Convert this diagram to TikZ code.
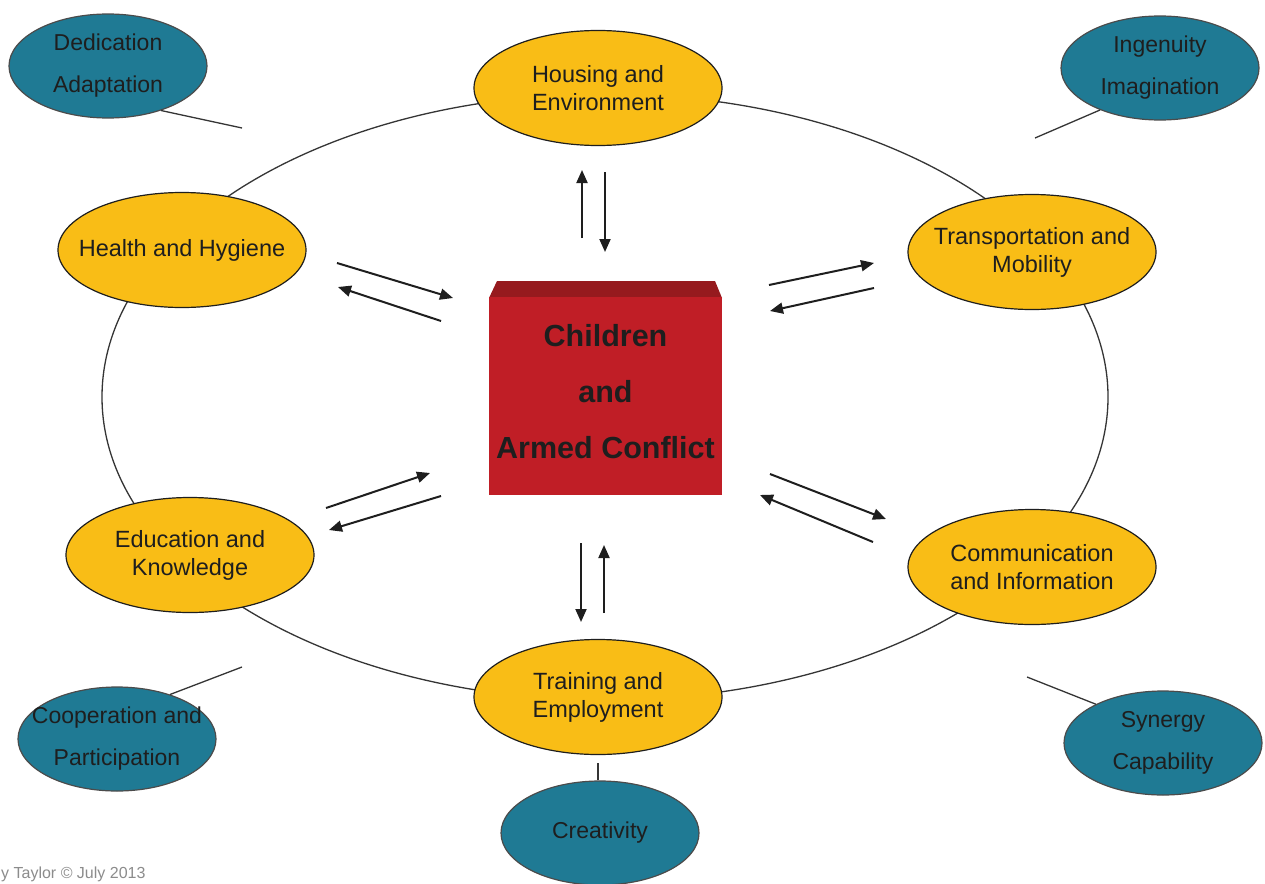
\documentclass[tikz,border=0pt]{standalone}
\usepackage{fontspec}
\setmainfont{Liberation Sans}
\usetikzlibrary{shapes.geometric,arrows.meta}
\definecolor{gold}{RGB}{249,189,22}
\definecolor{teal}{RGB}{31,122,148}
\definecolor{boxred}{RGB}{192,30,38}
\definecolor{boxtop}{RGB}{150,26,30}
\definecolor{ink}{RGB}{30,30,30}
\tikzset{
  area/.style={ellipse, draw=ink, line width=1.2pt, fill=gold,
    inner xsep=-40pt, inner ysep=0pt,
    minimum width=248pt, minimum height=115pt, align=center,
    font=\fontsize{23.5}{28}\selectfont, text=ink},
  trait/.style={ellipse, draw=ink!80, line width=1.2pt, fill=teal,
    inner xsep=-40pt, inner ysep=0pt,
    minimum width=198pt, minimum height=104pt, align=center,
    font=\fontsize{23}{42}\selectfont, text=ink},
  link/.style={draw=ink!90, line width=1.3pt},
  flow/.style={draw=ink, line width=2pt, -{Triangle[length=13pt,width=11pt]}},
}
\begin{document}
\begin{tikzpicture}[x=1pt,y=-1pt]
\useasboundingbox (0,0) rectangle (1265,883);
\fill[white] (0,0) rectangle (1265,883);

% the ring joining the six areas
\draw[link] (605,397) ellipse [x radius=503, y radius=303];

% six areas around the centre
\node[area] (housing) at (598,88) {Housing and\\Environment};
\node[area] (health) at (182,250) {Health and Hygiene};
\node[area] (transport) at (1032,252) {Transportation and\\Mobility};
\node[area] (education) at (190,555) {Education and\\Knowledge};
\node[area] (communication) at (1032,567) {Communication\\and Information};
\node[area] (training) at (598,697) {Training and\\Employment};

% qualities
\node[trait] (dedication) at (108,66) {Dedication\\Adaptation};
\node[trait] (ingenuity) at (1160,68) {Ingenuity\\Imagination};
\node[trait] (cooperation) at (117,739) {Cooperation and\\Participation};
\node[trait] (creativity) at (600,833) {Creativity};
\node[trait] (synergy) at (1163,743) {Synergy\\Capability};

% short leader lines from the qualities
\coordinate (dedEnd) at (242,128);
\coordinate (ingEnd) at (1035,138);
\coordinate (coopEnd) at (242,667);
\coordinate (creEnd) at (598,763);
\coordinate (synEnd) at (1027,677);
\draw[link] (dedication.-40) -- (dedEnd);
\draw[link] (ingenuity.-145) -- (ingEnd);
\draw[link] (cooperation.40) -- (coopEnd);
\draw[link] (creativity.north -| creEnd) -- (creEnd);
\draw[link] (synergy.150) -- (synEnd);

% central block with bevelled top
\fill[boxtop] (489,298) -- (497,281) -- (715,281) -- (722,298) -- cycle;
\fill[boxred] (489,297) rectangle (722,495);
\node[font=\fontsize{30.5}{56}\selectfont\bfseries, text=ink, align=center]
  (centre) at (605.5,392) {Children\\and\\Armed Conflict};

% two-way arrows between the areas and the centre
\coordinate (a1s) at (582,238); \coordinate (a1e) at (582,170);
\coordinate (a2s) at (605,172); \coordinate (a2e) at (605,252);
\draw[flow] (a1s) -- (a1e);
\draw[flow] (a2s) -- (a2e);

\coordinate (b1s) at (581,543); \coordinate (b1e) at (581,622);
\coordinate (b2s) at (604,613); \coordinate (b2e) at (604,545);
\draw[flow] (b1s) -- (b1e);
\draw[flow] (b2s) -- (b2e);

\coordinate (c1s) at (337,263); \coordinate (c1e) at (453,298);
\coordinate (c2s) at (441,321); \coordinate (c2e) at (338,287);
\draw[flow] (c1s) -- (c1e);
\draw[flow] (c2s) -- (c2e);

\coordinate (d1s) at (769,285); \coordinate (d1e) at (874,263);
\coordinate (d2s) at (874,288); \coordinate (d2e) at (770,311);
\draw[flow] (d1s) -- (d1e);
\draw[flow] (d2s) -- (d2e);

\coordinate (e1s) at (326,508); \coordinate (e1e) at (430,473);
\coordinate (e2s) at (441,496); \coordinate (e2e) at (329,530);
\draw[flow] (e1s) -- (e1e);
\draw[flow] (e2s) -- (e2e);

\coordinate (f1s) at (770,474); \coordinate (f1e) at (886,519);
\coordinate (f2s) at (873,542); \coordinate (f2e) at (760,495);
\draw[flow] (f1s) -- (f1e);
\draw[flow] (f2s) -- (f2e);

% credit line
\node[anchor=base west, inner sep=0pt, text=black!45,
  font=\fontsize{16}{20}\selectfont] (credit) at (1,878) {y Taylor © July 2013};
\end{tikzpicture}
\end{document}
